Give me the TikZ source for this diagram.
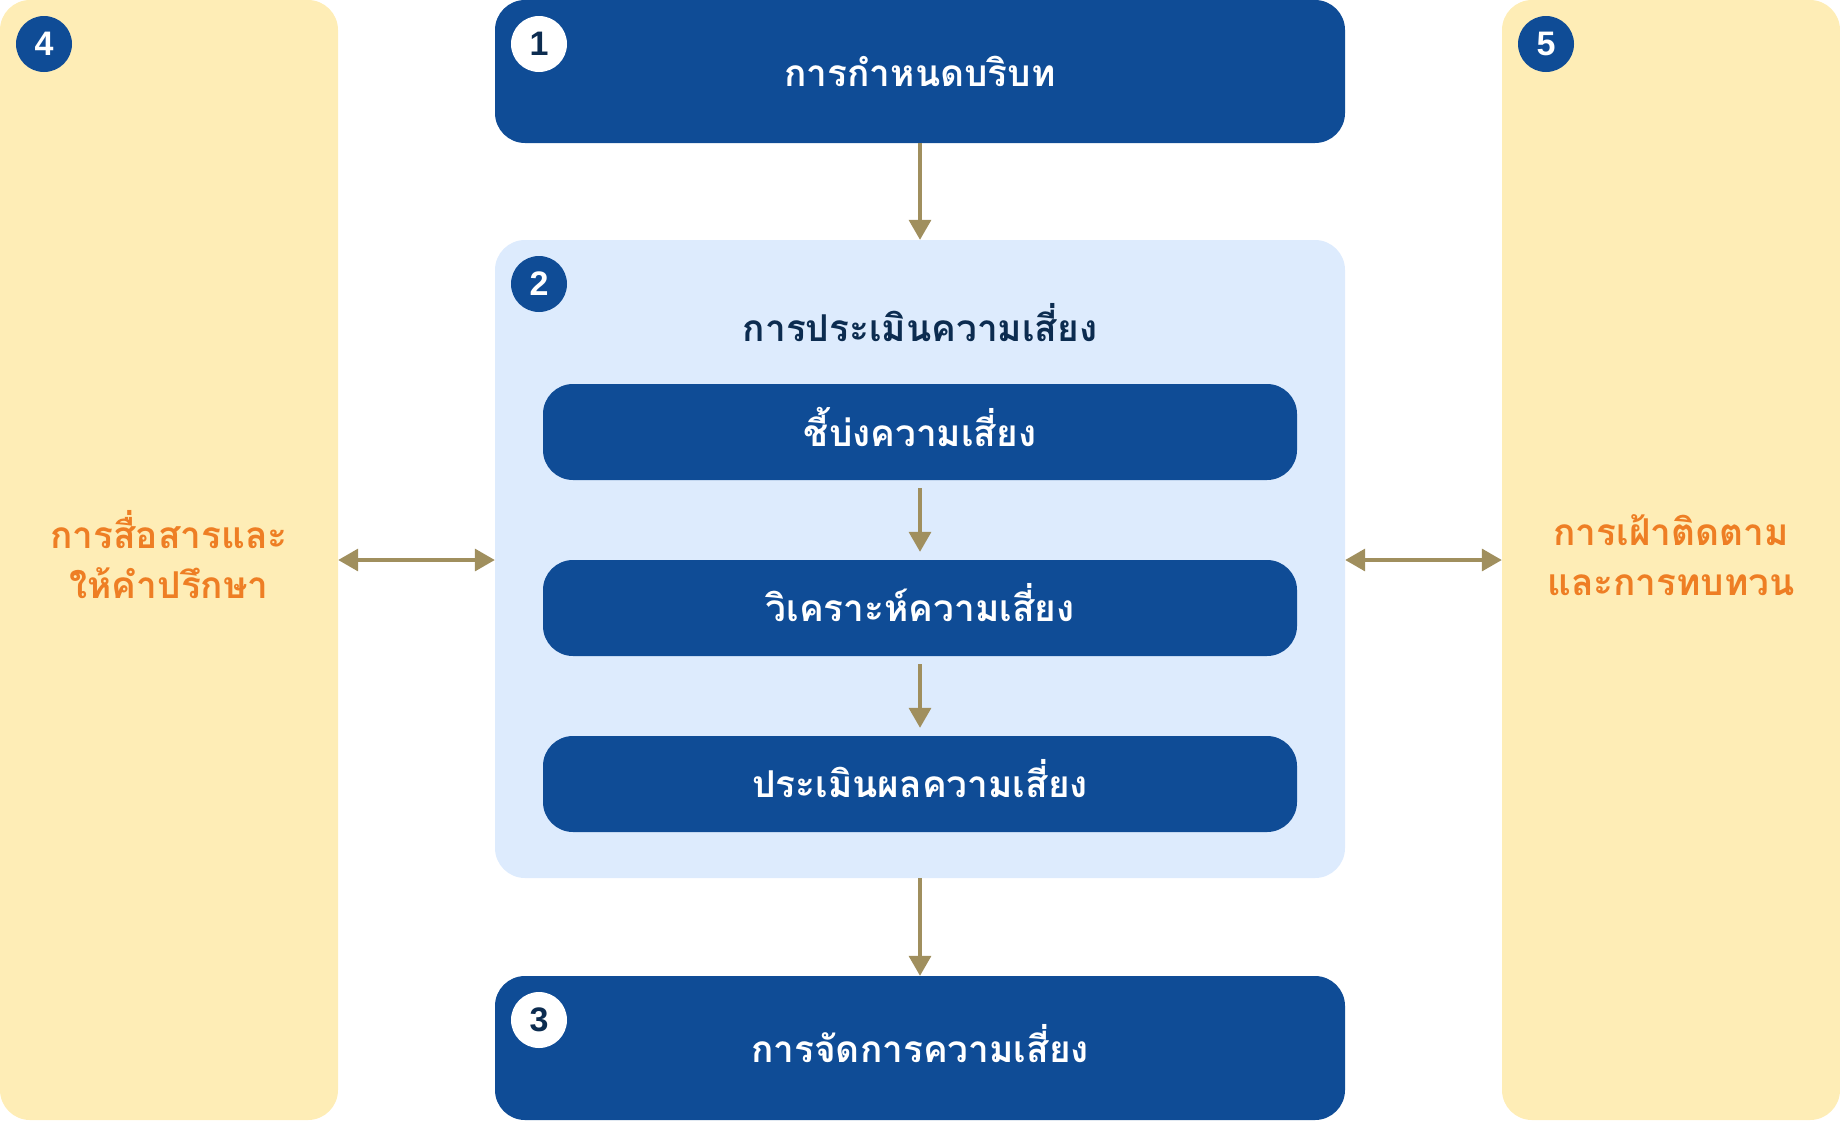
\documentclass[tikz,border=0pt]{standalone}
\usepackage{fontspec}
\usetikzlibrary{arrows.meta}
\newfontfamily\thaifont[Script=Thai]{Loma}
\newfontfamily\numfont{Liberation Sans}
\definecolor{navy}{HTML}{0F4C96}
\definecolor{lightblue}{HTML}{DDEBFD}
\definecolor{paleyellow}{HTML}{FEEDB6}
\definecolor{arrowtan}{HTML}{A08F5E}
\definecolor{orangetxt}{HTML}{EE7E24}
\definecolor{darktxt}{HTML}{0C2C50}
\tikzset{
  panelbox/.style={fill=paleyellow, rounded corners=30pt, minimum width=338pt, minimum height=1120pt, inner sep=0pt},
  mainbox/.style={fill=navy, rounded corners=30pt, minimum width=850pt, inner sep=0pt},
  groupbox/.style={fill=lightblue, rounded corners=30pt, minimum width=850pt, minimum height=638pt, inner sep=0pt},
  stepbox/.style={fill=navy, rounded corners=30pt, minimum width=754pt, minimum height=96pt, inner sep=0pt},
  boxlabel/.style={text=white, inner sep=0pt, font=\thaifont\bfseries\fontsize{37}{44}\selectfont},
  titlelabel/.style={text=darktxt, inner sep=0pt, font=\thaifont\bfseries\fontsize{37}{44}\selectfont},
  numdark/.style={circle, fill=navy, minimum size=56pt, inner sep=0pt, text=white, font=\numfont\bfseries\fontsize{34}{34}\selectfont},
  numlight/.style={circle, fill=white, minimum size=56pt, inner sep=0pt, text=darktxt, font=\numfont\bfseries\fontsize{34}{34}\selectfont},
  flow/.style={draw=arrowtan, line width=3.5pt, -{Triangle[length=20pt,width=22pt]}},
  bothflow/.style={draw=arrowtan, line width=3.5pt, {Triangle[length=20pt,width=22pt]}-{Triangle[length=20pt,width=22pt]}},
  paneltext/.style={text=orangetxt, align=center, inner sep=0pt, font=\thaifont\bfseries\fontsize{37}{50}\selectfont},
}
\begin{document}
\begin{tikzpicture}[x=1pt,y=-1pt]
\useasboundingbox (0,0) rectangle (1840,1120);
% side panels
\node[panelbox] (comm) at (169,560) {};
\node[panelbox] (mon) at (1671,560) {};
\node[paneltext] (commtxt) at (169,555) {การสื่อสารและ\\ให้คำปรึกษา};
\node[paneltext] (montxt) at (1671,555) {การเฝ้าติดตาม\\และการทบทวน};
% main column
\node[mainbox, minimum height=143pt] (ctx) at (920,71.5) {};
\node[groupbox] (assess) at (920,559) {};
\node[stepbox] (ident) at (920,432) {};
\node[stepbox] (anal) at (920,608) {};
\node[stepbox] (eval) at (920,784) {};
\node[mainbox, minimum height=144pt] (treat) at (920,1048) {};
% labels
\node[boxlabel] (ctxtxt) at ([yshift=0pt]ctx.center) {การกำหนดบริบท};
\node[titlelabel] (assesstitle) at (920,323) {การประเมินความเสี่ยง};
\node[boxlabel] (identtxt) at ([yshift=5pt]ident.center) {ชี้บ่งความเสี่ยง};
\node[boxlabel] (analtxt) at ([yshift=5pt]anal.center) {วิเคราะห์ความเสี่ยง};
\node[boxlabel] (evaltxt) at ([yshift=5pt]eval.center) {ประเมินผลความเสี่ยง};
\node[boxlabel] (treattxt) at ([yshift=4pt]treat.center) {การจัดการความเสี่ยง};
% number badges
\node[numlight] (n1) at (539,44) {1};
\node[numdark] (n2) at (539,284) {2};
\node[numlight] (n3) at (539,1020) {3};
\node[numdark] (n4) at (44,44) {4};
\node[numdark] (n5) at (1546,44) {5};
% connectors
\draw[flow] (ctx.south) -- (assess.north);
\draw[flow, shorten <=8pt, shorten >=8pt] (ident.south) -- (anal.north);
\draw[flow, shorten <=8pt, shorten >=8pt] (anal.south) -- (eval.north);
\draw[flow] (assess.south) -- (treat.north);
\draw[bothflow] (comm.east) -- (comm.east -| assess.west);
\draw[bothflow] (mon.west -| assess.east) -- (mon.west);
\end{tikzpicture}
\end{document}
